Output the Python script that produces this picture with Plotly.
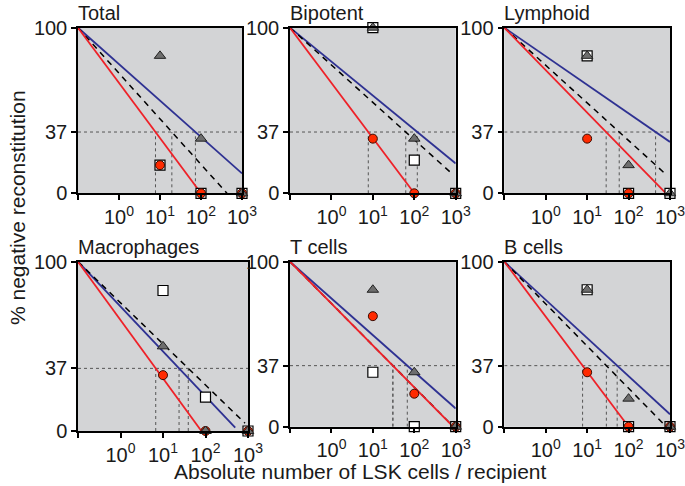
import math
import plotly.graph_objects as go

# ---------------- data ----------------
panel_titles = ["Total", "Bipotent", "Lymphoid", "Macrophages", "T cells", "B cells"]
doses = [10, 100, 1000]

# % negative reconstitution per dose (10, 100, 1000) for each panel
circle_pct = [[17, 0, 0], [33, 0, 0], [33, 0, None], [33, 0, 0], [67, 20, 0], [33, 0, 0]]
triangle_pct = [[83, 33, 0], [100, 33, 0], [83, 17, 0], [50, 0, 0], [83, 33, 0], [83, 17, 0]]
square_pct = [[17, 0, 0], [100, 20, 0], [83, 0, 0], [83, 20, 0], [33, 0, 0], [83, 0, 0]]

# fitted lines: all start at (0.1, 100); end points per panel
line_start_dose = 0.1
line_start_pct = 100
red_end_dose = [100, 100, 800, 80, 870, 100]
red_end_pct = [0, 0, 0, 0, 0, 0]
dashed_end_dose = [430, 800, 830, 850, 880, 680]
dashed_end_pct = [0, 12, 11, 4.6, 0, 2]
blue_end_dose = [1000, 1000, 1000, 500, 1000, 1000]
blue_end_pct = [12, 18, 31, 2, 11, 7.5]

ref_level = 37
x_tickvals = [0.1, 1, 10, 100, 1000]
x_ticktext = ["", "10<sup>0</sup>", "10<sup>1</sup>", "10<sup>2</sup>", "10<sup>3</sup>"]
y_tickvals = [0, 37, 100]
y_ticktext = ["0", "37", "100"]

# ---------------- layout geometry ----------------
W, H = 685, 486
px_x = [(78, 242), (290, 455.7), (504.3, 670), (78, 248), (290, 455.7), (504.3, 670)]
px_y = [(27.7, 193.3), (27.7, 193.3), (27.7, 193.3), (261.7, 431), (261.7, 426.7), (261.7, 426.7)]

RED = "#ee2128"
BLUE = "#2e3192"
BG = "#d3d4d6"
FONT = "Liberation Sans, Arial, sans-serif"
TXT = "#1a1a1a"

fig = go.Figure()
layout = dict(width=W, height=H, margin=dict(l=0, r=0, t=0, b=0, autoexpand=False),
              paper_bgcolor="white", showlegend=False,
              font=dict(family=FONT, size=20, color=TXT))
shapes = []
annotations = []


def cross37(end_dose, end_pct):
    t = (line_start_pct - ref_level) / (line_start_pct - end_pct)
    lx = math.log10(line_start_dose) + t * (math.log10(end_dose) - math.log10(line_start_dose))
    return 10 ** lx


for i, title in enumerate(panel_titles):
    n = i + 1
    xa = "x" if n == 1 else f"x{n}"
    ya = "y" if n == 1 else f"y{n}"
    xk = "xaxis" if n == 1 else f"xaxis{n}"
    yk = "yaxis" if n == 1 else f"yaxis{n}"
    x0, x1 = px_x[i]
    y0, y1 = px_y[i]
    layout[xk] = dict(domain=[x0 / W, x1 / W], anchor=ya, type="log", range=[-1, 3],
                      tickvals=x_tickvals, ticktext=x_ticktext, ticks="outside",
                      ticklen=5, tickwidth=1.5, tickcolor="black", automargin=False,
                      ticklabeloverflow="allow",
                      showgrid=False, zeroline=False, showline=True, mirror=True,
                      linecolor="black", linewidth=1.5,
                      tickfont=dict(family=FONT, size=20, color=TXT))
    layout[yk] = dict(domain=[1 - y1 / H, 1 - y0 / H], anchor=xa, range=[0, 100],
                      tickvals=y_tickvals, ticktext=y_ticktext, ticks="outside",
                      ticklen=5, tickwidth=1.5, tickcolor="black", automargin=False,
                      ticklabeloverflow="allow",
                      showgrid=False, zeroline=False, showline=True, mirror=True,
                      linecolor="black", linewidth=1.5,
                      tickfont=dict(family=FONT, size=20, color=TXT))
    # background
    shapes.append(dict(type="rect", xref=f"{xa} domain", yref=f"{ya} domain",
                       x0=0, x1=1, y0=0, y1=1, fillcolor=BG, line=dict(width=0), layer="below"))
    # horizontal 37% reference
    shapes.append(dict(type="line", xref=xa, yref=ya, x0=line_start_dose, x1=1000,
                       y0=ref_level, y1=ref_level, layer="below",
                       line=dict(color="#555555", width=1, dash="dot")))
    # vertical drops at 37%
    for ed, ep in [(red_end_dose[i], red_end_pct[i]), (dashed_end_dose[i], dashed_end_pct[i]),
                   (blue_end_dose[i], blue_end_pct[i])]:
        xc = cross37(ed, ep)
        shapes.append(dict(type="line", xref=xa, yref=ya, x0=xc, x1=xc, y0=0, y1=ref_level,
                           layer="below", line=dict(color="#555555", width=1, dash="dot")))
    # fit lines
    fig.add_trace(go.Scatter(x=[line_start_dose, blue_end_dose[i]], y=[line_start_pct, blue_end_pct[i]],
                             mode="lines", line=dict(color=BLUE, width=1.8), xaxis=xa, yaxis=ya))
    fig.add_trace(go.Scatter(x=[line_start_dose, dashed_end_dose[i]], y=[line_start_pct, dashed_end_pct[i]],
                             mode="lines", line=dict(color="black", width=1.5, dash="6px,5px"),
                             xaxis=xa, yaxis=ya))
    fig.add_trace(go.Scatter(x=[line_start_dose, red_end_dose[i]], y=[line_start_pct, red_end_pct[i]],
                             mode="lines", line=dict(color=RED, width=1.8), xaxis=xa, yaxis=ya))
    # markers: squares, circles, triangles
    fig.add_trace(go.Scatter(x=doses, y=square_pct[i], mode="markers", cliponaxis=False,
                             marker=dict(symbol="square", size=10, color="white",
                                         line=dict(color="black", width=1.2)),
                             xaxis=xa, yaxis=ya))
    fig.add_trace(go.Scatter(x=doses, y=circle_pct[i], mode="markers", cliponaxis=False,
                             marker=dict(symbol="circle", size=9, color="#ff2a00",
                                         line=dict(color="#3a0a00", width=1)),
                             xaxis=xa, yaxis=ya))
    fig.add_trace(go.Scatter(x=doses, y=triangle_pct[i], mode="markers", cliponaxis=False,
                             marker=dict(symbol="triangle-up", size=10, color="#6e6e6e",
                                         line=dict(color="#222222", width=1)),
                             xaxis=xa, yaxis=ya))
    # panel title
    annotations.append(dict(text=title, xref=f"{xa} domain", yref=f"{ya} domain", x=0, y=1,
                            xanchor="left", yanchor="bottom", showarrow=False, xshift=-2, yshift=2,
                            font=dict(family=FONT, size=20, color=TXT)))

annotations.append(dict(text="% negative reconstitution", xref="paper", yref="paper",
                        x=17 / W, y=1 - 208 / H, textangle=-90, showarrow=False,
                        xanchor="center", yanchor="middle",
                        font=dict(family=FONT, size=21, color=TXT)))
annotations.append(dict(text="Absolute number of LSK cells / recipient", xref="paper", yref="paper",
                        x=360 / W, y=1 - 471 / H, showarrow=False,
                        xanchor="center", yanchor="middle",
                        font=dict(family=FONT, size=21, color=TXT)))

layout["shapes"] = shapes
layout["annotations"] = annotations
fig.update_layout(**layout)
fig.write_html("out.html", config={"displayModeBar": False},
               post_script="document.body.style.margin='0px';document.body.style.overflow='hidden';")
